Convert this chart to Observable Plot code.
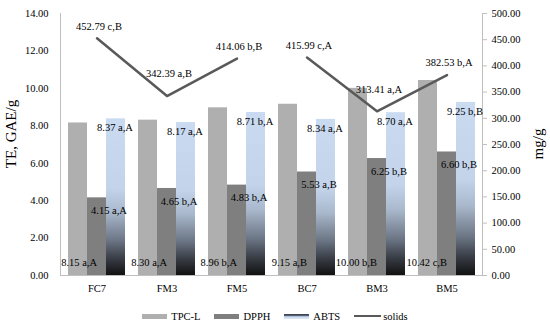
<!DOCTYPE html>
<html><head><meta charset="utf-8">
<script src="https://cdn.jsdelivr.net/npm/d3@7"></script>
<script src="https://cdn.jsdelivr.net/npm/@observablehq/plot@0.6"></script>
<style>
body{margin:0;background:#fff;font-family:'Liberation Serif','Times New Roman','DejaVu Serif',serif;}
#legend{display:flex;justify-content:center;align-items:center;height:20px;padding-top:6px;font-size:10.5px;color:#000;}
.item{display:flex;align-items:center;margin:0 7px;}
.sw{width:25px;height:5px;margin-right:4px;}
svg text{font-family:'Liberation Serif','Times New Roman','DejaVu Serif',serif;}
</style></head><body><div id="chart"></div><div id="legend"></div>
<script>
const categories = ["FC7","FM3","FM5","BC7","BM3","BM5"];
const groups     = ["F","F","F","B","B","B"];
const tpcL       = [8.15, 8.30, 8.96, 9.15, 10.00, 10.42];
const tpcLetters = ["a,A","a,A","b,A","a,B","b,B","c,B"];
const dpph       = [4.15, 4.65, 4.83, 5.53, 6.25, 6.60];
const dpphLetters= ["a,A","b,A","b,A","a,B","b,B","b,B"];
const abts       = [8.37, 8.17, 8.71, 8.34, 8.70, 9.25];
const abtsLetters= ["a,A","a,A","b,A","a,A","a,A","b,B"];
const solids     = [452.79, 342.39, 414.06, 415.99, 313.41, 382.53];
const solidsLetters = ["c,B","a,B","b,B","c,A","a,A","b,A"];
const leftTicks  = [0, 2, 4, 6, 8, 10, 12, 14];
const rightTicks = [0, 50, 100, 150, 200, 250, 300, 350, 400, 450, 500];
const leftTitle = "TE, GAE/g", rightTitle = "mg/g";
const leftMax = 14, rightMax = 500;
const toLeft = v => v * leftMax / rightMax;
const FONT = "'Liberation Serif', 'Times New Roman', 'DejaVu Serif', serif";

const rows = categories.map((c, i) => ({
  cat: c, group: groups[i],
  tpc: tpcL[i], dpph: dpph[i], abts: abts[i], solids: solids[i],
  tpcLab: tpcL[i].toFixed(2) + " " + tpcLetters[i],
  dpphLab: dpph[i].toFixed(2) + " " + dpphLetters[i],
  abtsLab: abts[i].toFixed(2) + " " + abtsLetters[i],
  solLab: solids[i].toFixed(2) + " " + solidsLetters[i]
}));
rows.forEach((r, i) => {
  const prev = rows[i-1], next = rows[i+1];
  const lower = (o) => !o || o.group !== r.group || o.solids > r.solids;
  r.valley = lower(prev) && lower(next);
});

const svg = Plot.plot({
  width: 550, height: 300,
  marginLeft: 60, marginRight: 68, marginTop: 13, marginBottom: 25,
  style: {fontFamily: FONT, fontSize: "10.5px", color: "#000", background: "#fff"},
  x: {domain: categories, paddingInner: 0.19, paddingOuter: 0.095},
  y: {domain: [0, leftMax]},
  marks: [
    Plot.barY(rows, {x: "cat", y: "tpc", fill: "#afafaf", insetRight: 38}),
    Plot.barY(rows, {x: "cat", y: "dpph", fill: "#7f7f7f", insetLeft: 19, insetRight: 19}),
    Plot.barY(rows, {x: "cat", y: "abts", fill: "url(#abtsGrad)", insetLeft: 38}),
    Plot.frame({anchor: "left", stroke: "#bfbfbf"}),
    Plot.frame({anchor: "right", stroke: "#bfbfbf"}),
    Plot.ruleY([0], {stroke: "#bfbfbf"}),
    Plot.line(rows, {x: "cat", y: d => toLeft(d.solids), z: "group", stroke: "#595959", strokeWidth: 2.5}),
    Plot.text(rows, {x: "cat", y: 0, text: "tpcLab", textAnchor: "end", dy: -13, fill: "#000"}),
    Plot.text(rows, {x: "cat", y: "dpph", text: "dpphLab", dx: 12, dy: 13, fill: "#000"}),
    Plot.text(rows, {x: "cat", y: "abts", text: "abtsLab", dx: 18, dy: 9, fill: "#000"}),
    Plot.text(rows, {filter: d => !d.valley, x: "cat", y: d => toLeft(d.solids), text: "solLab", dx: 2, dy: -12, fill: "#000"}),
    Plot.text(rows, {filter: d => d.valley, x: "cat", y: d => toLeft(d.solids), text: "solLab", dx: 2, dy: -22, fill: "#000"}),
    Plot.axisY(leftTicks, {anchor: "left", tickSize: 0, tickPadding: 12, tickFormat: d => d.toFixed(2), label: null}),
    Plot.axisY(rightTicks.map(toLeft), {anchor: "right", tickSize: 4, tickPadding: 5, stroke: "#bfbfbf", tickFormat: d => (d * rightMax / leftMax).toFixed(2), label: null}),
    Plot.axisX({tickSize: 0, tickPadding: 9, label: null})
  ]
});

const sel = d3.select(svg);
const defs = sel.insert("defs", ":first-child");
const g = defs.append("linearGradient").attr("id", "abtsGrad")
  .attr("x1", 0).attr("y1", 0).attr("x2", 0).attr("y2", 1);
[[0, "#c9daf1"], [0.45, "#c2d3ea"], [0.6, "#a9b8cc"], [0.78, "#6b7584"], [0.9, "#363a42"], [1, "#111"]]
  .forEach(([o, c]) => g.append("stop").attr("offset", o).attr("stop-color", c));

// axis titles
const addTitle = (txt, tx, ty) => sel.append("text")
  .attr("transform", `translate(${tx},${ty}) rotate(-90)`)
  .attr("text-anchor", "middle").attr("dominant-baseline", "central")
  .attr("font-size", 15).attr("fill", "#000").style("font-family", FONT).text(txt);
addTitle(leftTitle, 11, 134);
addTitle(rightTitle, 538, 144);

document.getElementById("chart").appendChild(svg);

const legendItems = [
  {name: "TPC-L", bg: "#afafaf", type: "bar"},
  {name: "DPPH", bg: "#7f7f7f", type: "bar"},
  {name: "ABTS", bg: "linear-gradient(#3d4756 0%, #3d4756 25%, #c6d9f1 55%, #dce8f6 100%)", type: "bar"},
  {name: "solids", bg: "#595959", type: "line"}
];
const leg = d3.select("#legend");
legendItems.forEach(it => {
  const item = leg.append("div").attr("class", "item");
  const sw = item.append("div").attr("class", "sw").style("background", it.bg);
  if (it.type === "line") sw.style("width", "27px").style("height", "2.5px").style("margin-right", "2px");
  item.append("span").text(it.name);
});
</script>
</body></html>
